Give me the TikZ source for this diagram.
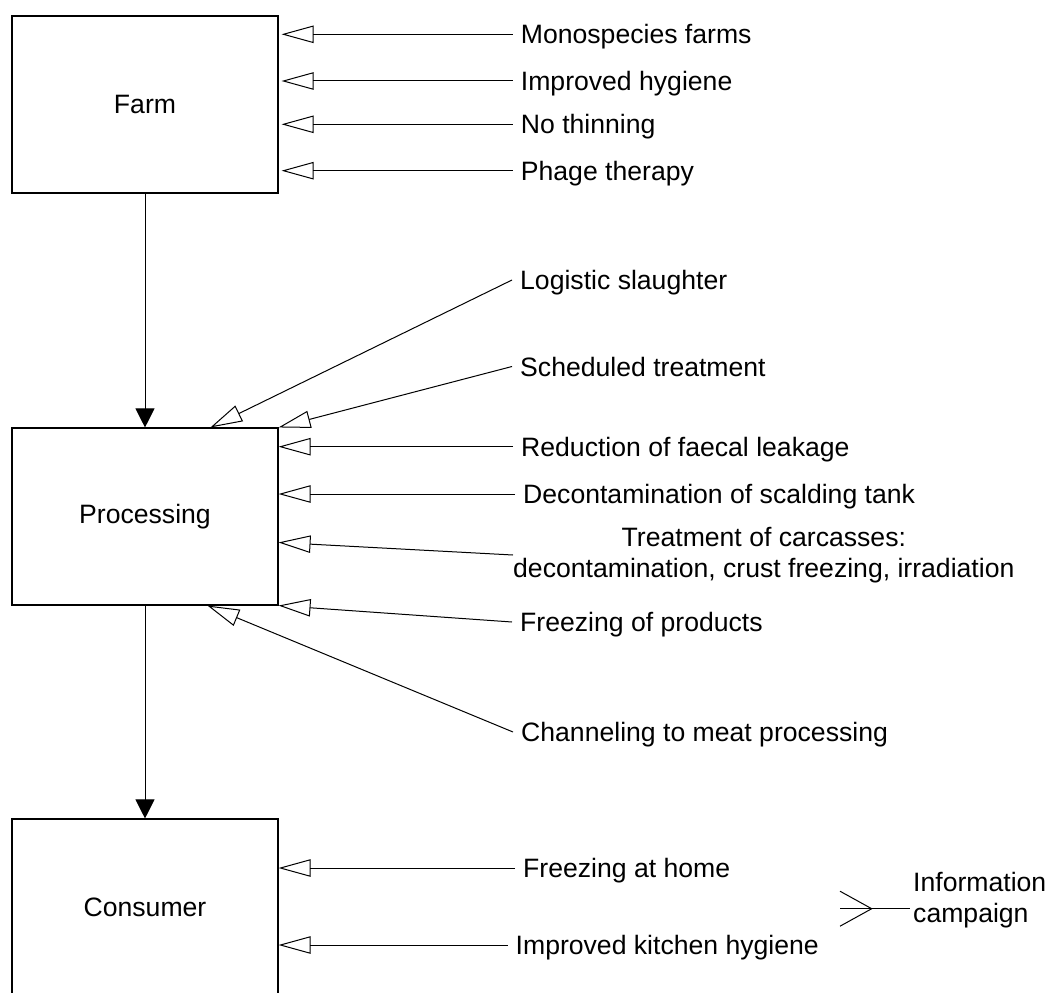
\documentclass[tikz,border=0pt]{standalone}
\usepackage{fontspec}
\setmainfont{Liberation Sans}
\usetikzlibrary{arrows.meta,calc}
\tikzset{
  stage/.style={draw, line width=1.1pt, minimum width=266pt, minimum height=177pt, inner sep=0pt, font=\fontsize{26.6}{30.6}\selectfont},
  lbl/.style={anchor=west, inner xsep=8pt, inner ysep=0pt, text height=26pt, text depth=7pt, font=\fontsize{26.6}{30.6}\selectfont},
  mlbl/.style={anchor=west, inner sep=0pt, font=\fontsize{26.6}{30.6}\selectfont},
  inarrow/.style={draw, line width=1pt, -{Triangle[open, length=32pt, width=17.4pt]}},
  flow/.style={draw, line width=1pt, -{Triangle[length=19pt, width=19pt]}},
  plain/.style={draw, line width=1pt}
}
\begin{document}
\begin{tikzpicture}[x=1pt,y=-1pt]
\useasboundingbox (0,0) rectangle (1048,992);
\clip (0,0) rectangle (1048,992);
% stages
\node[stage] (farm) at (145,104.5) {Farm};
\node[stage] (proc) at (145,516.5) {Processing};
\node[stage] (cons) at (145,907.5) {Consumer};
% farm measures
\node[lbl] (f1) at (512.7,34.3) {Monospecies farms};
\node[lbl] (f2) at (512.7,81) {Improved hygiene};
\node[lbl] (f3) at (512.7,124.3) {No thinning};
\node[lbl] (f4) at (512.7,170.7) {Phage therapy};
% processing measures
\node[lbl] (p1) at (512,280) {Logistic slaughter};
\node[lbl] (p2) at (512,366.5) {Scheduled treatment};
\node[lbl] (p3) at (513,446.7) {Reduction of faecal leakage};
\node[lbl] (p4) at (515,494) {Decontamination of scalding tank};
\node[mlbl, align=center] (p5) at (513,555) {Treatment of carcasses:\\decontamination, crust freezing, irradiation};
\node[lbl] (p6) at (512,622) {Freezing of products};
\node[lbl] (p7) at (513,732) {Channeling to meat processing};
% consumer measures
\node[lbl] (c1) at (515,868) {Freezing at home};
\node[lbl] (c2) at (507.5,945) {Improved kitchen hygiene};
\node[mlbl, align=left] (info) at (913,900) {Information\\campaign};
% main flow
\draw[flow] (farm.south) -- (proc.north);
\draw[flow] (proc.south) -- (cons.north);
% arrows into farm
\foreach \n in {f1,f2,f3,f4}
  \draw[inarrow, shorten >=3pt] (\n.west) -- (farm.east |- \n.west);
% arrows into processing
\draw[inarrow] (p1.west) -- ($(proc.north west)+(199,0)$);
\draw[inarrow] (p2.west) -- (proc.north east);
\draw[inarrow] (p3.west) -- (proc.east |- p3.west);
\draw[inarrow] (p4.west) -- (proc.east |- p4.west);
\draw[inarrow] (p5.west) -- ($(proc.north east)+(0,115)$);
\draw[inarrow] (p6.west) -- (proc.south east);
\draw[inarrow] (p7.west) -- ($(proc.south west)+(196,0)$);
% arrows into consumer
\draw[inarrow] (c1.west) -- (cons.east |- c1.west);
\draw[inarrow] (c2.west) -- (cons.east |- c2.west);
% information campaign
\coordinate (ch) at (840,908.7);
\draw[plain, shorten >=3pt] (ch) -- (info.west |- ch);
\draw[plain] ($(ch)+(0,-17.5)$) -- ($(ch)+(31.7,0)$) -- ($(ch)+(0,17.5)$);
\end{tikzpicture}
\end{document}
